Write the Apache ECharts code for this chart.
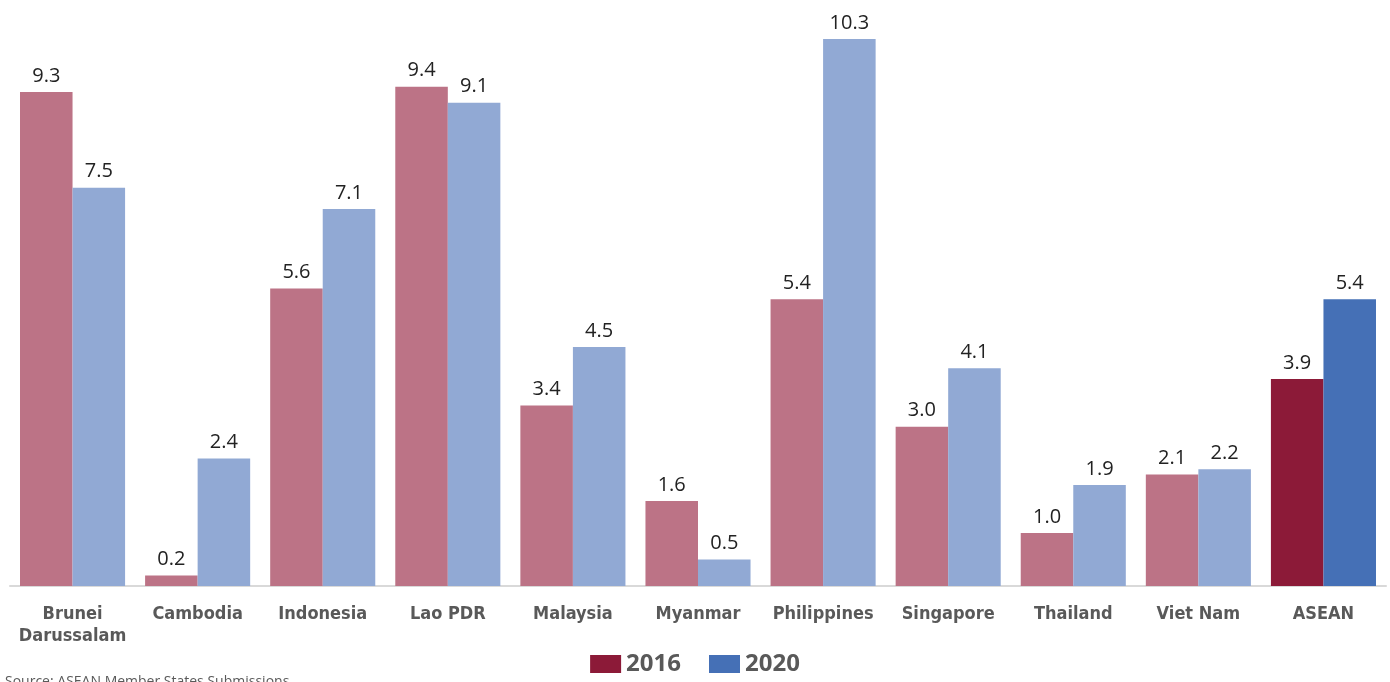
<!DOCTYPE html>
<html>
<head>
<meta charset="utf-8">
<script src="https://cdn.jsdelivr.net/npm/echarts@6/dist/echarts.min.js"></script>
<style>
  html, body { margin: 0; padding: 0; background: #fff; }
  #chart { width: 1390px; height: 682px; }
</style>
</head>
<body>
<div id="chart"></div>
<script>
const categories = ["Brunei\nDarussalam", "Cambodia", "Indonesia", "Lao PDR", "Malaysia", "Myanmar",
  "Philippines", "Singapore", "Thailand", "Viet Nam", "ASEAN"];
const values2016 = [9.3, 0.2, 5.6, 9.4, 3.4, 1.6, 5.4, 3.0, 1.0, 2.1, 3.9];
const values2020 = [7.5, 2.4, 7.1, 9.1, 4.5, 0.5, 10.3, 4.1, 1.9, 2.2, 5.4];

// countries get the light shade, the ASEAN total the full colour
const light2016 = "#bc7386", dark2016 = "#8c1a38";
const light2020 = "#91a9d4", dark2020 = "#4570b6";

function items(values, light) {
  return values.map((v, i) => ({
    value: v,
    itemStyle: categories[i] === "ASEAN" ? undefined : { color: light },
  }));
}

const chart = echarts.init(document.getElementById("chart"));

const labelStyle = {
  show: true,
  position: "top",
  distance: 6,
  color: "#222",
  fontSize: 20,
  fontFamily: "Open Sans, Noto Sans, sans-serif",
  formatter: (p) => p.value.toFixed(1),
};

chart.setOption({
  animation: false,
  grid: { left: 10, right: 4, top: 39, bottom: 96, containLabel: false },
  legend: {
    data: ["2016", "2020"],
    bottom: 1,
    left: "center",
    itemWidth: 31,
    itemHeight: 18,
    itemGap: 28,
    icon: "rect",
    textStyle: {
      fontSize: 24,
      fontWeight: "bold",
      color: "#595959",
      fontFamily: "Open Sans, Noto Sans, sans-serif",
    },
  },
  xAxis: {
    type: "category",
    data: categories,
    axisLine: { lineStyle: { color: "#d9d9d9", width: 2 } },
    axisTick: { show: false },
    axisLabel: {
      interval: 0,
      margin: 17,
      color: "#595959",
      fontSize: 18,
      fontWeight: "bold",
      lineHeight: 22,
      fontFamily: "DejaVu Sans Condensed, Liberation Sans Narrow, sans-serif",
    },
  },
  yAxis: {
    type: "value",
    min: 0,
    max: 10.3,
    show: false,
    splitLine: { show: false },
  },
  series: [
    {
      name: "2016",
      type: "bar",
      barGap: "0%",
      barCategoryGap: "16%",
      itemStyle: { color: dark2016 },
      label: labelStyle,
      data: items(values2016, light2016),
    },
    {
      name: "2020",
      type: "bar",
      itemStyle: { color: dark2020 },
      label: labelStyle,
      data: items(values2020, light2020),
    },
  ],
  graphic: [
    {
      type: "text",
      left: 5,
      top: 675,
      style: {
        text: "Source: ASEAN Member States Submissions",
        fill: "#595959",
        fontSize: 14,
        fontFamily: "Open Sans, Noto Sans, sans-serif",
      },
    },
  ],
});
</script>
</body>
</html>
